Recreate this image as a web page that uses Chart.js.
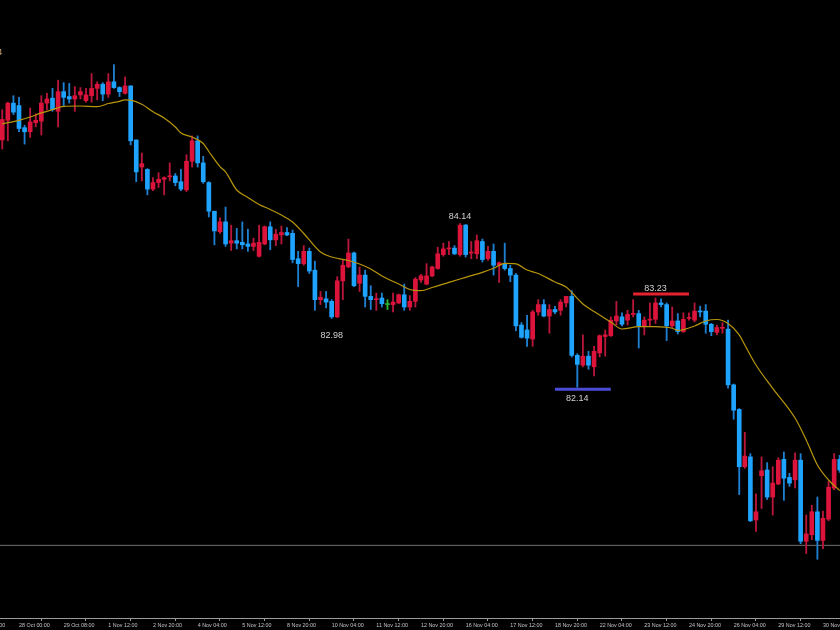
<!DOCTYPE html>
<html><head><meta charset="utf-8">
<script src="https://cdn.jsdelivr.net/npm/chart.js@4.4.0/dist/chart.umd.min.js"></script>
<style>html,body{margin:0;padding:0;background:#000;overflow:hidden}canvas{display:block}</style>
</head><body>
<canvas id="c" width="840" height="630"></canvas>
<script>
// H4 candles, index 0..150
const opens = [85.16,85.40,85.61,85.58,85.31,85.26,85.37,85.39,85.61,85.67,
 85.51,85.75,85.69,85.66,85.71,85.64,85.70,85.79,85.84,85.72,
 85.87,85.80,85.73,85.82,85.16,84.83,84.80,84.56,84.64,84.68,
 84.71,84.72,84.65,84.55,84.90,85.15,84.88,84.64,84.29,84.04,
 84.16,83.90,83.93,83.91,83.89,83.86,83.74,83.89,84.10,83.94,
 84.00,84.03,84.02,83.71,83.65,83.80,83.57,83.21,83.22,83.19,
 83.00,83.44,83.61,83.78,83.41,83.51,83.25,83.21,83.23,83.15,
 83.15,83.17,83.27,83.12,83.19,83.45,83.40,83.50,83.59,83.76,
 83.83,83.84,83.76,84.12,83.78,83.77,83.92,83.71,83.80,83.63,
 83.65,83.59,83.51,82.90,82.84,82.73,83.06,83.15,83.01,83.09,
 83.08,83.17,83.25,82.53,82.41,82.52,82.39,82.56,82.76,82.77,
 82.95,83.00,82.96,83.03,83.04,82.88,82.96,82.97,83.17,83.15,
 82.89,82.95,82.82,82.98,82.96,83.07,83.07,82.91,82.81,82.86,
 82.85,82.17,81.87,81.17,81.29,80.52,81.06,81.13,80.80,80.96,
 81.26,81.04,81.01,81.25,80.26,80.34,80.62,80.27,80.53,80.91,
 81.26];
const highs = [85.53,85.62,85.70,85.68,85.34,85.55,85.48,85.70,85.73,85.79,
 85.89,85.86,85.85,85.81,85.80,85.79,85.97,85.87,85.86,85.97,
 86.08,85.81,85.93,85.82,85.16,85.00,84.81,84.70,84.76,84.71,
 84.88,84.75,84.80,84.98,85.21,85.21,84.96,84.65,84.29,84.21,
 84.34,84.12,84.08,84.16,84.07,83.96,84.12,84.11,84.16,84.07,
 84.11,84.09,84.06,83.80,83.87,83.84,83.68,83.31,83.31,83.21,
 83.49,83.70,83.95,83.79,83.61,83.57,83.38,83.29,83.29,83.21,
 83.29,83.28,83.40,83.26,83.48,83.52,83.65,83.62,83.85,83.90,
 83.92,83.87,84.14,84.13,83.92,84.00,83.95,83.86,83.89,83.67,
 83.90,83.63,83.53,82.93,83.02,83.08,83.21,83.21,83.15,83.13,
 83.21,83.25,83.32,82.55,82.78,82.58,82.64,82.78,82.84,83.00,
 83.19,83.05,83.08,83.21,83.08,83.00,83.17,83.23,83.22,83.17,
 83.12,83.04,83.05,83.05,83.17,83.13,83.15,82.92,82.90,82.93,
 82.96,82.18,81.88,81.59,81.33,80.84,81.29,81.22,81.17,81.28,
 81.35,81.09,81.34,81.33,80.58,80.70,80.80,80.63,80.99,81.33,
 81.31];
const lows = [85.05,85.15,85.47,85.26,85.11,85.19,85.32,85.22,85.53,85.51,
 85.32,85.58,85.61,85.51,85.66,85.62,85.62,85.65,85.64,85.68,
 85.79,85.69,85.72,85.10,84.65,84.66,84.49,84.54,84.58,84.49,
 84.66,84.60,84.54,84.53,84.83,84.83,84.63,84.22,83.88,84.02,
 83.86,83.81,83.83,83.83,83.80,83.81,83.73,83.88,83.82,83.87,
 83.89,83.99,83.66,83.37,83.63,83.53,83.08,83.15,83.11,82.98,
 82.99,83.21,83.60,83.37,83.31,83.12,83.09,83.08,83.12,83.09,
 83.06,83.16,83.08,83.08,83.12,83.42,83.39,83.49,83.58,83.74,
 83.76,83.76,83.74,83.73,83.71,83.71,83.67,83.69,83.51,83.42,
 83.57,83.43,82.83,82.74,82.64,82.64,83.02,83.00,82.80,83.04,
 83.02,83.12,82.51,82.14,82.39,82.36,82.28,82.51,82.52,82.76,
 82.90,82.89,82.90,83.00,82.62,82.78,82.88,82.92,83.12,82.71,
 82.87,82.79,82.81,82.96,82.94,83.00,82.80,82.77,82.78,82.80,
 82.13,81.75,80.83,81.15,80.50,80.38,80.66,80.77,80.58,80.95,
 80.76,80.93,80.91,80.23,80.11,80.28,80.04,80.17,80.51,80.89,
 81.10];
const closes = [85.41,85.61,85.50,85.30,85.26,85.38,85.40,85.61,85.66,85.53,
 85.75,85.68,85.66,85.70,85.75,85.71,85.79,85.84,85.72,85.87,
 85.80,85.75,85.82,85.15,84.77,84.87,84.56,84.64,84.68,84.70,
 84.72,84.64,84.56,84.90,85.15,84.88,84.65,84.29,84.05,84.16,
 83.89,83.93,83.90,83.88,83.86,83.90,83.91,84.10,83.94,84.01,
 84.03,84.00,83.70,83.65,83.80,83.56,83.21,83.24,83.18,83.00,
 83.44,83.63,83.78,83.38,83.51,83.25,83.21,83.22,83.16,83.15,
 83.18,83.27,83.12,83.19,83.46,83.50,83.50,83.61,83.77,83.83,
 83.84,83.77,84.12,83.76,83.79,83.93,83.70,83.80,83.63,83.66,
 83.59,83.51,82.89,82.75,82.74,83.06,83.15,83.01,83.09,83.06,
 83.18,83.25,82.53,82.42,82.52,82.41,82.58,82.77,82.78,82.96,
 83.01,82.91,83.03,83.04,82.89,82.96,82.97,83.17,83.15,82.89,
 82.95,82.82,82.97,82.99,83.07,83.06,82.91,82.82,82.87,82.87,
 82.17,81.86,81.17,81.30,80.51,80.62,81.12,80.80,80.97,81.25,
 81.03,80.97,81.25,80.26,80.35,80.62,80.27,80.54,80.92,81.26,
 81.13];

// moving average (candle index, price)
const maIdx = [0,3,5,7,9,11,14,17,19,21,22,23,25,27,29,31,32,34,36,37,39,40,42,44,46,48,50,52,54,57,59,62,64,66,68,71,73,75,77,80,83,86,88,90,92,94,96,99,101,102,104,106,109,111,114,117,120,121,124,126,128,130,132,133,135,138,142,144,146,148,150];
const maVal = [85.357,85.40,85.44,85.49,85.53,85.571,85.575,85.566,85.605,85.632,85.650,85.646,85.596,85.505,85.428,85.318,85.245,85.196,85.117,85.019,84.834,84.769,84.549,84.458,84.372,84.311,84.244,84.158,84.018,83.792,83.731,83.688,83.646,83.585,83.499,83.401,83.334,83.320,83.359,83.422,83.483,83.544,83.593,83.652,83.646,83.572,83.530,83.426,83.365,83.298,83.157,83.066,82.937,82.852,82.880,82.880,82.861,82.834,82.889,82.950,82.968,82.919,82.779,82.657,82.412,82.128,81.765,81.497,81.191,81.008,80.88];

const bidPrice = 80.21;

const tickIdx = [-5,3,11,19,27,35,43,51,59,67,75,83,91,99,107,115,123,131,139,147];
const tickLabels = ["26 Oct 16:00","28 Oct 00:00","29 Oct 08:00","1 Nov 12:00","2 Nov 20:00","4 Nov 04:00","5 Nov 12:00","8 Nov 20:00","10 Nov 04:00","11 Nov 12:00","12 Nov 20:00","16 Nov 04:00","17 Nov 12:00","18 Nov 20:00","22 Nov 04:00","23 Nov 12:00","24 Nov 20:00","26 Nov 04:00","29 Nov 12:00","30 Nov 20:00"];

// swing marks
const markIdx = [82, 59, 117, 103, -2];
const markPrice = [84.14, 82.98, 83.23, 82.14, 86.14];

// styles for the marks (pixel offsets, colours)
const markStyle = [
  {dy:-7, color:'#d2d2d2'},
  {dy:17.5, color:'#d2d2d2'},
  {dy:-10, color:'#d2d2d2', line:'#e8212e', lineDy:-4},
  {dy:11, color:'#d2d2d2', line:'#4b4bd6', lineDy:2},
  {dy:-7, color:'#c8a070'}
];

const UP = '#dc143c', DOWN = '#1ea4ff', DOJI = '#2db82d';
const UPW = '#b8163a', DOWNW = '#1f7fd0';

const n = opens.length;
const bodyData = [], wickData = [], bodyCol = [], wickCol = [];
for (let i = 0; i < n; i++) {
  const o = opens[i], c = closes[i];
  bodyData.push({x: i, y: [Math.min(o, c), Math.max(o, c)]});
  wickData.push({x: i, y: [lows[i], highs[i]]});
  const col = c > o ? UP : (c < o ? DOWN : DOJI);
  bodyCol.push(col);
  wickCol.push(c > o ? UPW : (c < o ? DOWNW : DOJI));
}
const maData = maIdx.map((x, k) => ({x, y: maVal[k]}));
const bidData = [{x: -2, y: bidPrice}, {x: 152, y: bidPrice}];

const bgPlugin = {
  id: 'bg',
  beforeDraw(chart) {
    const ctx = chart.ctx;
    ctx.save(); ctx.fillStyle = '#000'; ctx.fillRect(0, 0, chart.width, chart.height); ctx.restore();
  }
};

const markPlugin = {
  id: 'marks',
  afterDatasetsDraw(chart) {
    const ctx = chart.ctx, xs = chart.scales.x, ys = chart.scales.y;
    ctx.save();
    ctx.font = '9px "Liberation Sans", Arial, sans-serif';
    ctx.textAlign = 'center';
    ctx.textBaseline = 'middle';
    markIdx.forEach((mi, k) => {
      const st = markStyle[k];
      const px = xs.getPixelForValue(mi);
      const py = ys.getPixelForValue(markPrice[k]);
      if (st.line) {
        ctx.strokeStyle = st.line;
        ctx.lineWidth = 3;
        ctx.beginPath();
        ctx.moveTo(xs.getPixelForValue(mi - 4), py + st.lineDy);
        ctx.lineTo(xs.getPixelForValue(mi + 6), py + st.lineDy);
        ctx.stroke();
      }
      ctx.fillStyle = st.color;
      ctx.fillText(markPrice[k].toFixed(2), px, py + st.dy);
    });
    ctx.restore();
  }
};

new Chart(document.getElementById('c'), {
  type: 'bar',
  data: {
    datasets: [
      {type: 'line', data: maData, borderColor: '#b8960c', borderWidth: 1.2, pointRadius: 0,
       cubicInterpolationMode: 'monotone', order: 0},
      {type: 'bar', data: bodyData, backgroundColor: bodyCol, borderWidth: 0, barThickness: 4,
       minBarLength: 1, grouped: false, order: 1},
      {type: 'bar', data: wickData, backgroundColor: wickCol, borderWidth: 0, barThickness: 1.2,
       grouped: false, order: 2},
      {type: 'line', data: bidData, borderColor: '#6e6e74', borderWidth: 1, pointRadius: 0, order: 3}
    ]
  },
  options: {
    responsive: false,
    animation: false,
    devicePixelRatio: 1,
    layout: {padding: 0},
    plugins: {legend: {display: false}, tooltip: {enabled: false}},
    scales: {
      x: {
        type: 'linear',
        position: 'bottom',
        min: -0.403,
        max: 150.05,
        offset: false,
        afterBuildTicks: (scale) => { scale.ticks = tickIdx.map(v => ({value: v})); },
        afterFit: (scale) => { scale.height = 12; scale.paddingLeft = 0; scale.paddingRight = 0; },
        grid: {drawOnChartArea: false, drawTicks: true, tickLength: 3, color: '#9a9a9a', lineWidth: 1},
        border: {display: true, color: '#9a9a9a', width: 1},
        ticks: {
          autoSkip: false, maxRotation: 0, minRotation: 0, align: 'start', padding: 1,
          color: '#c4c4c4',
          font: {family: '"Liberation Sans", Arial, sans-serif', size: 5.4},
          callback: (v) => { const k = tickIdx.indexOf(v); return k >= 0 ? tickLabels[k] : ''; }
        }
      },
      y: {
        type: 'linear',
        display: false,
        min: 79.323,
        max: 86.869
      }
    }
  },
  plugins: [bgPlugin, markPlugin]
});
</script>
</body></html>
